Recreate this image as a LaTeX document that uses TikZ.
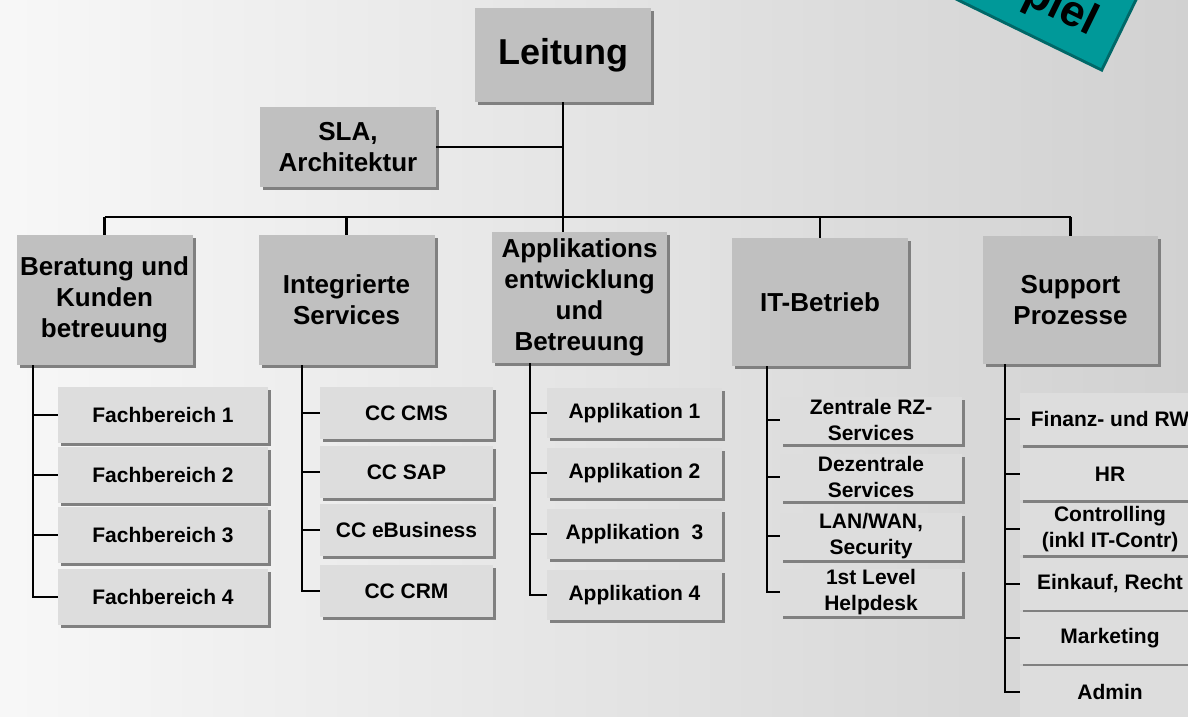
\documentclass[tikz,border=0pt]{standalone}
\usepackage{fontspec}
\setmainfont{Liberation Sans}
\usetikzlibrary{shadows}
\definecolor{boxgray}{RGB}{192,192,192}
\definecolor{subgray}{RGB}{221,221,221}
\definecolor{shadowgray}{RGB}{128,128,128}
\definecolor{bannerteal}{RGB}{0,153,153}
\definecolor{bannerdark}{RGB}{0,104,104}
\tikzset{
    unitbox/.style={fill=boxgray, draw=none, align=center, inner sep=0pt,
        font=\bfseries\fontsize{26}{31}\selectfont,
        drop shadow={shadow xshift=3pt, shadow yshift=-3pt, fill=shadowgray, opacity=1}},
    headbox/.style={unitbox, minimum width=176pt, minimum height=130pt},
    subbox/.style={unitbox, fill=subgray, font=\bfseries\fontsize{21}{26}\selectfont},
    fbbox/.style={subbox, minimum width=210pt, minimum height=56pt},
    ccbox/.style={subbox, minimum width=173pt, minimum height=52pt},
    appbox/.style={subbox, minimum width=175pt, minimum height=50pt},
    rzbox/.style={subbox, minimum width=182pt, minimum height=47pt},
    supbox/.style={subbox, minimum width=180pt, minimum height=52pt},
    conn/.style={draw=black, line width=2.5pt},
}

\begin{document}
\begin{tikzpicture}[x=1pt, y=-1pt]
\useasboundingbox (0,0) rectangle (1188,717);
\shade[left color=white!97!black, right color=white!82!black] (0,0) rectangle (1188,717);

% Beispiel banner, cut by the page edge
\begin{scope}[shift={(1101,68)}, rotate=-26]
\fill[bannerdark] (-397,-197) rectangle (3,3);
\fill[bannerteal] (-400,-200) rectangle (0,0);
\node[font=\bfseries\fontsize{44}{44}\selectfont, anchor=base east, transform shape] (beispiel) at (-21,-24) {Beispiel};
\end{scope}

\node[headbox, minimum height=94pt, font=\bfseries\fontsize{36}{40}\selectfont] (leitung) at (563,55) {Leitung};
\node[headbox, minimum height=80pt] (sla) at (348,147) {SLA,\\Architektur};
\node[headbox] (beratung) at (104.5,300) {Beratung und\\Kunden\\betreuung};
\node[headbox] (integr) at (346.5,300) {Integrierte\\Services};
\node[headbox, minimum width=175pt, minimum height=131pt] (appl) at (579.5,297.5) {Applikations\\entwicklung\\und\\Betreuung};
\node[headbox, minimum height=128pt] (itb) at (820,302) {IT-Betrieb};
\node[headbox, minimum width=175pt, minimum height=128pt] (supp) at (1070.5,300) {Support\\Prozesse};

\foreach \i/\y in {1/415, 2/475, 3/535, 4/597}
    \node[fbbox] (fb\i) at (163,\y) {Fachbereich \i};
\foreach \i/\y/\t in {1/413/CMS, 2/472/SAP, 3/530/eBusiness, 4/591/CRM}
    \node[ccbox] (cc\i) at (406.5,\y) {CC \t};
\node[appbox] (app1) at (634.5,413) {Applikation 1};
\node[appbox] (app2) at (634.5,473) {Applikation 2};
\node[appbox] (app3) at (634.5,534) {Applikation\ \ 3};
\node[appbox] (app4) at (634.5,595) {Applikation 4};
\node[rzbox] (rz1) at (871,420) {Zentrale RZ-\\Services};
\node[rzbox] (rz2) at (871,477) {Dezentrale\\Services};
\node[rzbox] (rz3) at (871,536) {LAN/WAN,\\Security};
\node[rzbox] (rz4) at (871,592) {1st Level\\Helpdesk};
\node[supbox] (sp1) at (1110,419) {Finanz- und RW};
\node[supbox] (sp2) at (1110,474) {HR};
\node[supbox] (sp3) at (1110,529) {Controlling\\(inkl IT-Contr)};
\node[supbox] (sp4) at (1110,584) {Einkauf, Recht};
\node[supbox] (sp5) at (1110,638) {Marketing};
\node[supbox] (sp6) at (1110,692) {Admin};

% connectors
\coordinate (bus) at (0,217);
\draw[conn] (leitung) -- (leitung.south |- appl.north);
\draw[conn] (sla.east) -- (sla.east -| leitung.south);
\draw[conn] (beratung.north |- bus) -- (supp.north |- bus);
\foreach \n in {beratung, integr, itb, supp}
    \draw[conn] (\n.north) -- (\n.north |- bus);

\coordinate (trunkB) at (33,0);
\coordinate (trunkI) at (302,0);
\coordinate (trunkA) at (530,0);
\coordinate (trunkT) at (767,0);
\coordinate (trunkS) at (1005,0);
\draw[conn] (beratung.south -| trunkB) |- (fb4);
\draw[conn] (integr.south -| trunkI) |- (cc4);
\draw[conn] (appl.south -| trunkA) |- (app4);
\draw[conn] (itb.south -| trunkT) |- (rz4);
\draw[conn] (supp.south -| trunkS) |- (sp6);
\foreach \i in {1,2,3} {
    \draw[conn] (fb\i.west -| trunkB) -- (fb\i);
    \draw[conn] (cc\i.west -| trunkI) -- (cc\i);
    \draw[conn] (app\i.west -| trunkA) -- (app\i);
    \draw[conn] (rz\i.west -| trunkT) -- (rz\i);
}
\foreach \i in {1,...,5}
    \draw[conn] (sp\i.west -| trunkS) -- (sp\i);
\end{tikzpicture}
\end{document}
